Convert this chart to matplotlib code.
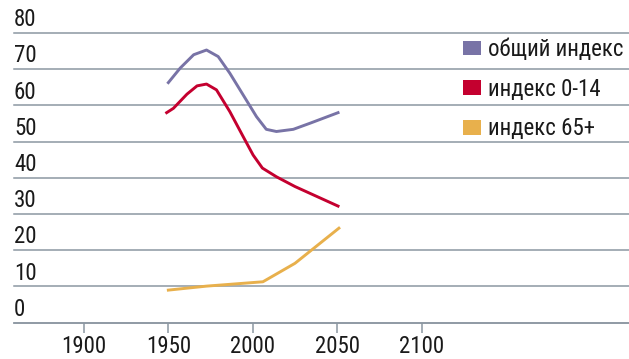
import matplotlib.pyplot as plt
from matplotlib.patches import Patch
import matplotlib.transforms as mtransforms

plt.rcParams['font.family'] = ['Roboto Condensed', 'DejaVu Sans']

# данные
years_total = [1950, 1957, 1965, 1972.6, 1979.5, 1986.4, 1994.3, 2002.2, 2008, 2014, 2024, 2034, 2050.5]
total_index = [66.3, 70.3, 74.0, 75.3, 73.5, 68.9, 62.9, 56.9, 53.4, 52.8, 53.4, 55.1, 58.0]

years_young = [1949, 1953, 1961, 1967, 1972.6, 1978.5, 1986.4, 1994.3, 2000.2, 2005.7, 2014, 2025, 2050.5]
young_index = [58.0, 59.2, 63.1, 65.4, 65.9, 64.3, 58.3, 51.4, 46.3, 42.7, 40.3, 37.6, 32.2]

years_old = [1950, 1972.6, 2006, 2025, 2051]
old_index = [9.0, 10.1, 11.3, 16.4, 26.1]

labels = ['общий индекс', 'индекс 0-14', 'индекс 65+']
colors = ['#7873a6', '#c4002f', '#e8b04c']
x_ticks = [1900, 1950, 2000, 2050, 2100]
y_ticks = [0, 10, 20, 30, 40, 50, 60, 70, 80]

W, H = 629, 359
fig = plt.figure(figsize=(W / 100, H / 100), dpi=100)
ax = fig.add_axes([14 / W, 36.3 / H, 1 - 14 / W, (359 - 36.3 - 33) / H])

ax.plot(years_total, total_index, color=colors[0], lw=2.1, solid_joinstyle='round')
ax.plot(years_young, young_index, color=colors[1], lw=2.1, solid_joinstyle='round')
ax.plot(years_old, old_index, color=colors[2], lw=2.1, solid_joinstyle='round')

ax.set_xlim(1858.6, 2222.8)
ax.set_ylim(0, 80)

grid_color = '#8c97a2'
ax.set_yticks(y_ticks)
ax.yaxis.grid(True, color=grid_color, lw=1.1)
for gl in ax.get_ygridlines():
    gl.set_clip_on(False)
ax.set_axisbelow(True)
ax.tick_params(axis='y', length=0, labelleft=False)

trans = mtransforms.blended_transform_factory(ax.transAxes, ax.transData)
for v in y_ticks:
    ax.text(0, v + 0.5, str(v), transform=trans, ha='left', va='bottom',
            fontsize=16.5, color='#1a1a1a')

ax.set_xticks(x_ticks)
ax.set_xticklabels([str(x) for x in x_ticks])
ax.tick_params(axis='x', length=7, width=1.1, color=grid_color, pad=2,
               labelsize=16.5, labelcolor='#1a1a1a')

for s in ['top', 'right', 'left']:
    ax.spines[s].set_visible(False)
ax.spines['bottom'].set_color(grid_color)
ax.spines['bottom'].set_linewidth(1.1)

handles = [Patch(facecolor=c, edgecolor='none') for c in colors]
fig.legend(handles, labels, loc='upper left', bbox_to_anchor=(463 / W, 1 - 38 / H),
           frameon=False, fontsize=16.5, handlelength=0.8, handleheight=0.6,
           handletextpad=0.3, labelspacing=0.73, borderpad=0, borderaxespad=0,
           labelcolor='#1a1a1a')

fig.savefig('out.png', dpi=100)
